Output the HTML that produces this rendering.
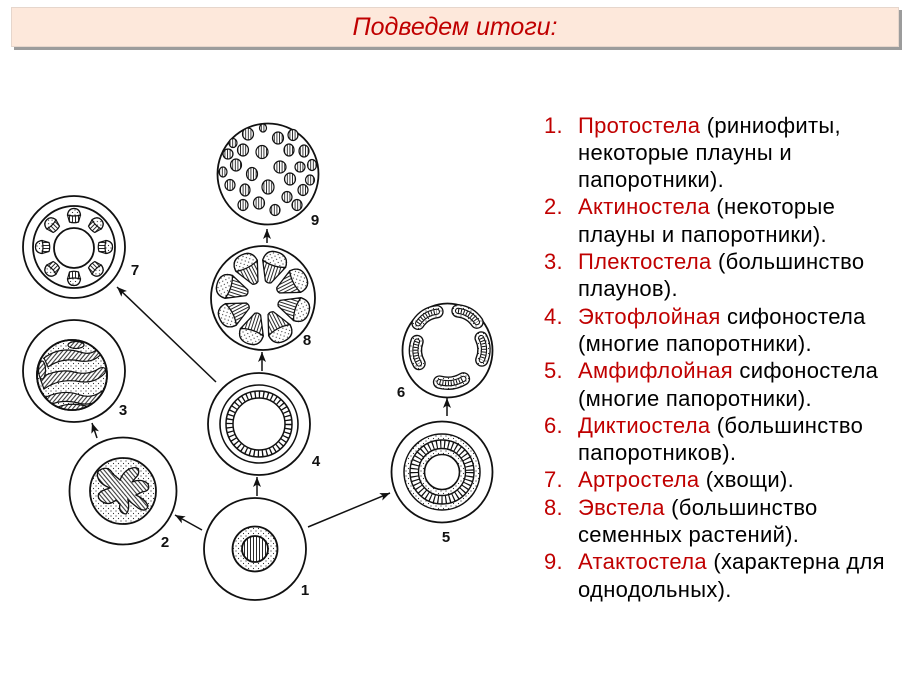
<!DOCTYPE html>
<html>
<head>
<meta charset="utf-8">
<style>
  html,body{margin:0;padding:0;}
  body{width:910px;height:683px;position:relative;overflow:hidden;background:#fff;
       font-family:"Liberation Sans","Noto Sans CJK SC",sans-serif;}
  .bar{position:absolute;left:11px;top:7px;width:886px;height:38px;background:#fde8db;
       border:1px solid #e6d6cc;box-shadow:3px 3px 0 #9c9c9c;}
  .bar div{position:absolute;left:0;right:0;top:0;line-height:38px;text-align:center;
       font-style:italic;font-size:25px;color:#c00000;}
  .list{position:absolute;left:544px;top:111.6px;font-size:22px;letter-spacing:0.3px;line-height:27.3px;color:#000;white-space:nowrap;}
  .list div{position:relative;height:27.3px;}
  .n{position:absolute;left:0;color:#c00000;}
  .t{position:absolute;left:34px;}
  .r{color:#c00000;}
  svg{position:absolute;left:0;top:0;}
</style>
</head>
<body>
<div class="bar"><div>Подведем итоги:</div></div>

<div class="list">
  <div><span class="n">1.</span><span class="t"><span class="r">Протостела</span> (риниофиты,</span></div>
  <div><span class="t">некоторые плауны и</span></div>
  <div><span class="t">папоротники).</span></div>
  <div><span class="n">2.</span><span class="t"><span class="r">Актиностела</span> (некоторые</span></div>
  <div><span class="t">плауны и папоротники).</span></div>
  <div><span class="n">3.</span><span class="t"><span class="r">Плектостела</span> (большинство</span></div>
  <div><span class="t">плаунов).</span></div>
  <div><span class="n">4.</span><span class="t"><span class="r">Эктофлойная</span> сифоностела</span></div>
  <div><span class="t">(многие папоротники).</span></div>
  <div><span class="n">5.</span><span class="t"><span class="r">Амфифлойная</span> сифоностела</span></div>
  <div><span class="t">(многие папоротники).</span></div>
  <div><span class="n">6.</span><span class="t"><span class="r">Диктиостела</span> (большинство</span></div>
  <div><span class="t">папоротников).</span></div>
  <div><span class="n">7.</span><span class="t"><span class="r">Артростела</span> (хвощи).</span></div>
  <div><span class="n">8.</span><span class="t"><span class="r">Эвстела</span> (большинство</span></div>
  <div><span class="t">семенных растений).</span></div>
  <div><span class="n">9.</span><span class="t"><span class="r">Атактостела</span> (характерна для</span></div>
  <div><span class="t">однодольных).</span></div>
</div>

<svg width="910" height="683" viewBox="0 0 910 683">
<defs>
  <pattern id="dots" width="5" height="5" patternUnits="userSpaceOnUse">
    <rect width="5" height="5" fill="#fff"/>
    <circle cx="1" cy="1" r="0.6" fill="#333"/>
    <circle cx="3.5" cy="3.5" r="0.6" fill="#333"/>
  </pattern>
  <pattern id="hl" width="6" height="3" patternUnits="userSpaceOnUse">
    <rect width="6" height="3" fill="#fff"/>
    <line x1="0" y1="1.5" x2="6" y2="1.5" stroke="#111" stroke-width="0.9"/>
  </pattern>
  <pattern id="vl" width="3" height="6" patternUnits="userSpaceOnUse">
    <rect width="3" height="6" fill="#fff"/>
    <line x1="1.5" y1="0" x2="1.5" y2="6" stroke="#111" stroke-width="0.9"/>
  </pattern>
  <pattern id="vd" width="2.6" height="6" patternUnits="userSpaceOnUse">
    <rect width="2.6" height="6" fill="#fff"/>
    <line x1="1.3" y1="0" x2="1.3" y2="6" stroke="#222" stroke-width="0.9"/>
  </pattern>
  <pattern id="dg" width="3.2" height="10" patternUnits="userSpaceOnUse" patternTransform="rotate(40)">
    <rect width="3.2" height="10" fill="#fff"/>
    <line x1="1.6" y1="0" x2="1.6" y2="10" stroke="#111" stroke-width="0.9"/>
  </pattern>
  <pattern id="dg2" width="3.2" height="10" patternUnits="userSpaceOnUse" patternTransform="rotate(-40)">
    <rect width="3.2" height="10" fill="#fff"/>
    <line x1="1.6" y1="0" x2="1.6" y2="10" stroke="#111" stroke-width="0.9"/>
  </pattern>
  <clipPath id="c3"><circle cx="72" cy="375" r="35"/></clipPath>
  <marker id="ah" viewBox="0 0 10 8" refX="10" refY="4" markerWidth="10" markerHeight="8" markerUnits="userSpaceOnUse" orient="auto">
    <path d="M0,0 L10,4 L0,8 L2.5,4 Z" fill="#111"/>
  </marker>
  <g id="wedge">
    <path d="M17,-3 L36,-12 Q48,-12 48,0 Q48,12 36,12 L17,3 Q15,0 17,-3Z" fill="url(#hl)"/>
    <path d="M36,-12 Q48,-12 48,0 Q48,12 36,12 Q32,0 36,-12Z" fill="url(#dots)"/>
  </g>
  <g id="bund">
    <path d="M-6,-4.5 Q-7.5,0 -6,4.5 L1,6.5 Q7.5,5.5 7.5,0 Q7.5,-5.5 1,-6.5Z" fill="url(#hl)"/>
    <path d="M1,-6.5 Q7.5,-5.5 7.5,0 Q7.5,5.5 1,6.5 Q-1,0 1,-6.5Z" fill="url(#dots)"/>
  </g>
</defs>

<!-- connectors -->
<g stroke="#111" stroke-width="1.5" fill="none" marker-end="url(#ah)">
  <line x1="202" y1="530" x2="175" y2="515"/>
  <line x1="97" y1="438" x2="92" y2="423"/>
  <line x1="257" y1="496" x2="257" y2="477"/>
  <line x1="262" y1="371" x2="262" y2="352"/>
  <line x1="267" y1="243" x2="267" y2="229"/>
  <line x1="308" y1="527" x2="390" y2="493"/>
  <line x1="447" y1="416" x2="447" y2="398"/>
  <line x1="216" y1="382" x2="117" y2="287"/>
</g>

<g fill="none" stroke="#111" stroke-width="1.8">

<!-- 9 atactostele -->
<circle cx="268" cy="174" r="50.5" fill="#fff"/>
<g stroke-width="1.2" fill="url(#vd)">
  <ellipse cx="263" cy="128" rx="3.5" ry="4"/>
  <ellipse cx="248" cy="134" rx="5.5" ry="6"/>
  <ellipse cx="278" cy="138" rx="5.5" ry="6"/>
  <ellipse cx="293" cy="135" rx="5" ry="5.5"/>
  <ellipse cx="233" cy="143" rx="4" ry="4.5"/>
  <ellipse cx="228" cy="154" rx="5" ry="5"/>
  <ellipse cx="243" cy="150" rx="5.5" ry="6"/>
  <ellipse cx="262" cy="152" rx="6" ry="6.5"/>
  <ellipse cx="289" cy="150" rx="5" ry="6"/>
  <ellipse cx="304" cy="151" rx="5" ry="6"/>
  <ellipse cx="223" cy="172" rx="4" ry="5"/>
  <ellipse cx="236" cy="165" rx="5.5" ry="6"/>
  <ellipse cx="252" cy="174" rx="5.5" ry="6.5"/>
  <ellipse cx="280" cy="167" rx="6" ry="6"/>
  <ellipse cx="290" cy="179" rx="5.5" ry="6"/>
  <ellipse cx="300" cy="167" rx="5" ry="5"/>
  <ellipse cx="312" cy="165" rx="4.5" ry="5.5"/>
  <ellipse cx="230" cy="185" rx="5" ry="5.5"/>
  <ellipse cx="245" cy="190" rx="5" ry="6"/>
  <ellipse cx="268" cy="187" rx="6" ry="7"/>
  <ellipse cx="287" cy="197" rx="5" ry="5.5"/>
  <ellipse cx="303" cy="190" rx="5" ry="5.5"/>
  <ellipse cx="310" cy="180" rx="4.5" ry="5"/>
  <ellipse cx="243" cy="205" rx="5" ry="5.5"/>
  <ellipse cx="259" cy="203" rx="5.5" ry="6"/>
  <ellipse cx="275" cy="210" rx="5" ry="5.5"/>
  <ellipse cx="297" cy="205" rx="5" ry="5.5"/>
</g>

<!-- 8 eustele -->
<circle cx="263" cy="298" r="52" fill="#fff"/>
<g stroke-width="1.3">
  <use href="#wedge" transform="translate(263,298) rotate(-117)"/>
  <use href="#wedge" transform="translate(263,298) rotate(-72)"/>
  <use href="#wedge" transform="translate(263,298) rotate(-27)"/>
  <use href="#wedge" transform="translate(263,298) rotate(18)"/>
  <use href="#wedge" transform="translate(263,298) rotate(63)"/>
  <use href="#wedge" transform="translate(263,298) rotate(108)"/>
  <use href="#wedge" transform="translate(263,298) rotate(153)"/>
  <use href="#wedge" transform="translate(263,298) rotate(198)"/>
</g>

<!-- 7 arthrostele -->
<circle cx="74" cy="247" r="51" fill="#fff"/>
<circle cx="74" cy="247" r="41"/>
<circle cx="74" cy="248" r="20"/>
<g stroke-width="1.2">
  <use href="#bund" transform="translate(74,247) rotate(-90) translate(31,0)"/>
  <use href="#bund" transform="translate(74,247) rotate(-45) translate(31,0)"/>
  <use href="#bund" transform="translate(74,247) rotate(0) translate(31,0)"/>
  <use href="#bund" transform="translate(74,247) rotate(45) translate(31,0)"/>
  <use href="#bund" transform="translate(74,247) rotate(90) translate(31,0)"/>
  <use href="#bund" transform="translate(74,247) rotate(135) translate(31,0)"/>
  <use href="#bund" transform="translate(74,247) rotate(180) translate(31,0)"/>
  <use href="#bund" transform="translate(74,247) rotate(225) translate(31,0)"/>
</g>

<!-- 3 plectostele -->
<circle cx="74" cy="371" r="51" fill="#fff"/>
<circle cx="72" cy="375" r="35" fill="url(#dots)"/>
<g clip-path="url(#c3)" stroke-width="1.2" fill="url(#dg)">
  <path d="M44,358 Q60,346 80,352 Q92,356 98,348 L102,353 Q94,363 80,361 Q62,357 48,367 Z"/>
  <path d="M40,378 Q58,368 74,372 Q88,376 100,368 Q107,366 105,373 Q94,385 76,381 Q58,379 44,389 Z"/>
  <path d="M46,397 Q64,389 80,395 Q92,399 102,391 L105,397 Q92,407 78,403 Q62,399 50,405 Z"/>
  <path d="M58,407 Q70,402 86,406 L84,411 Q70,409 60,411 Z"/>
  <ellipse cx="76" cy="345" rx="8" ry="3.5"/>
  <ellipse cx="42" cy="370" rx="3.5" ry="9"/>
</g>
<circle cx="72" cy="375" r="35"/>

<!-- 2 actinostele -->
<circle cx="123" cy="491" r="53.5" fill="#fff"/>
<circle cx="123" cy="491" r="33" fill="url(#dots)"/>
<path stroke-width="1.3" fill="url(#dg2)" d="M100,470 Q108,465 113,474 L120,480 Q124,470 132,468 Q141,466 138,475 L132,482 Q142,478 148,484 Q151,491 142,492 L136,495 Q146,500 148,506 Q146,513 138,508 L128,500 Q130,510 126,514 Q118,513 120,504 L116,500 Q108,507 100,500 Q95,494 104,490 L110,488 Q100,484 98,478 Q96,472 100,470 Z"/>

<!-- 1 protostele -->
<circle cx="255" cy="549" r="51" fill="#fff"/>
<circle cx="255" cy="549" r="22.5" fill="url(#dots)"/>
<circle cx="255" cy="549" r="13" fill="url(#vl)"/>

<!-- 4 ectophloic siphonostele -->
<circle cx="259" cy="424" r="51" fill="#fff"/>
<circle cx="259" cy="424" r="39" stroke-width="1.6"/>
<circle cx="259" cy="424" r="29.5" stroke="#111" stroke-width="7" stroke-dasharray="1.3 2.9"/>
<circle cx="259" cy="424" r="33" stroke-width="1.5"/>
<circle cx="259" cy="424" r="26" stroke-width="1.5"/>

<!-- 5 amphiphloic siphonostele -->
<circle cx="442" cy="472" r="50.5" fill="#fff"/>
<circle cx="442" cy="472" r="38" fill="url(#dots)" stroke-width="1.5"/>
<circle cx="442" cy="472" r="27.75" stroke="#fff" stroke-width="8.5"/>
<circle cx="442" cy="472" r="27.75" stroke="#111" stroke-width="8" stroke-dasharray="1.2 2.7"/>
<circle cx="442" cy="472" r="32" stroke-width="1.4"/>
<circle cx="442" cy="472" r="23.5" stroke-width="1.4"/>
<circle cx="442" cy="472" r="17.5" fill="#fff" stroke-width="1.6"/>

<!-- 6 dictyostele -->
<ellipse cx="447.5" cy="350.5" rx="45" ry="47" fill="#fff"/>
<g fill="none" stroke-linecap="round">
  <g>
    <path d="M418.1,323.3 Q424.9,313.2 436.9,311.7" stroke="#111" stroke-width="13.5"/>
    <path d="M418.1,323.3 Q424.9,313.2 436.9,311.7" stroke="url(#dots)" stroke-width="10.8"/>
    <path d="M418.1,323.3 Q424.9,313.2 436.9,311.7" stroke="#111" stroke-width="6.2"/>
    <path d="M418.1,323.3 Q424.9,313.2 436.9,311.7" stroke="#fff" stroke-width="4"/>
    <path d="M418.1,323.3 Q424.9,313.2 436.9,311.7" stroke="#111" stroke-width="4" stroke-dasharray="1 1.8" stroke-linecap="butt"/>
  </g>
  <g>
    <path d="M458.05,310.87 Q470.06,312.2 476.95,322.13" stroke="#111" stroke-width="13.5"/>
    <path d="M458.05,310.87 Q470.06,312.2 476.95,322.13" stroke="url(#dots)" stroke-width="10.8"/>
    <path d="M458.05,310.87 Q470.06,312.2 476.95,322.13" stroke="#111" stroke-width="6.2"/>
    <path d="M458.05,310.87 Q470.06,312.2 476.95,322.13" stroke="#fff" stroke-width="4"/>
    <path d="M458.05,310.87 Q470.06,312.2 476.95,322.13" stroke="#111" stroke-width="4" stroke-dasharray="1 1.8" stroke-linecap="butt"/>
  </g>
  <g>
    <path d="M481.17,338 Q486.5,348.85 481.83,360" stroke="#111" stroke-width="13.5"/>
    <path d="M481.17,338 Q486.5,348.85 481.83,360" stroke="url(#dots)" stroke-width="10.8"/>
    <path d="M481.17,338 Q486.5,348.85 481.83,360" stroke="#111" stroke-width="6.2"/>
    <path d="M481.17,338 Q486.5,348.85 481.83,360" stroke="#fff" stroke-width="4"/>
    <path d="M481.17,338 Q486.5,348.85 481.83,360" stroke="#111" stroke-width="4" stroke-dasharray="1 1.8" stroke-linecap="butt"/>
  </g>
  <g>
    <path d="M439.6,382.1 Q452.2,385.5 463.4,378.9" stroke="#111" stroke-width="13.5"/>
    <path d="M439.6,382.1 Q452.2,385.5 463.4,378.9" stroke="url(#dots)" stroke-width="10.8"/>
    <path d="M439.6,382.1 Q452.2,385.5 463.4,378.9" stroke="#111" stroke-width="6.2"/>
    <path d="M439.6,382.1 Q452.2,385.5 463.4,378.9" stroke="#fff" stroke-width="4"/>
    <path d="M439.6,382.1 Q452.2,385.5 463.4,378.9" stroke="#111" stroke-width="4" stroke-dasharray="1 1.8" stroke-linecap="butt"/>
  </g>
  <g>
    <path d="M417,341.5 Q413,352.9 419,363.5" stroke="#111" stroke-width="13.5"/>
    <path d="M417,341.5 Q413,352.9 419,363.5" stroke="url(#dots)" stroke-width="10.8"/>
    <path d="M417,341.5 Q413,352.9 419,363.5" stroke="#111" stroke-width="6.2"/>
    <path d="M417,341.5 Q413,352.9 419,363.5" stroke="#fff" stroke-width="4"/>
    <path d="M417,341.5 Q413,352.9 419,363.5" stroke="#111" stroke-width="4" stroke-dasharray="1 1.8" stroke-linecap="butt"/>
  </g>
</g>

</g>

<!-- number labels -->
<g font-family="Liberation Sans, sans-serif" font-weight="bold" font-size="15" fill="#111" text-anchor="middle">
  <text x="305" y="595">1</text>
  <text x="165" y="547">2</text>
  <text x="123" y="415">3</text>
  <text x="316" y="466">4</text>
  <text x="446" y="542">5</text>
  <text x="401" y="397">6</text>
  <text x="135" y="275">7</text>
  <text x="307" y="345">8</text>
  <text x="315" y="225">9</text>
</g>
</svg>
</body>
</html>
